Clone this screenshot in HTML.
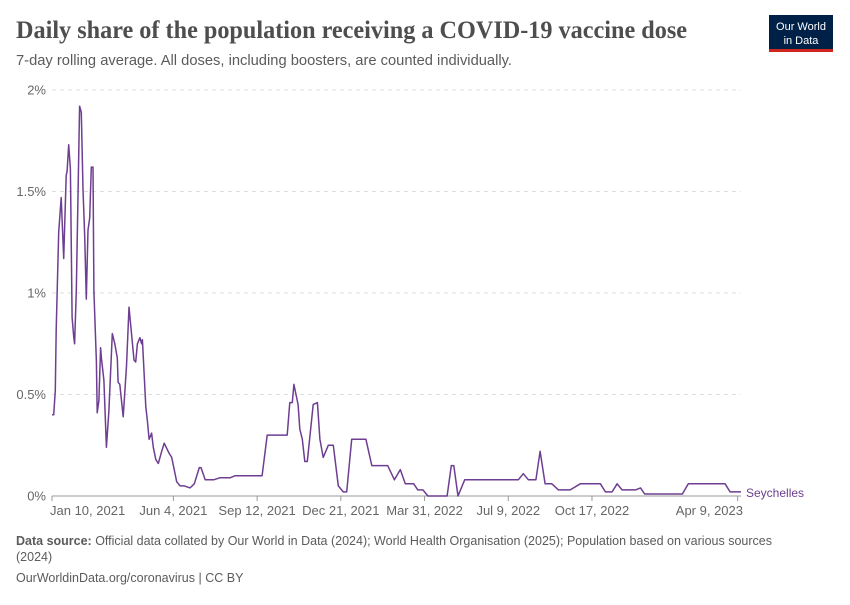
<!DOCTYPE html>
<html><head><meta charset="utf-8">
<style>
body{margin:0;background:#fff;width:850px;height:600px;overflow:hidden;font-family:"Liberation Sans",sans-serif;}
svg text{font-family:"Liberation Sans",sans-serif;}
</style></head><body>
<svg id="chart" width="850" height="600">
<text x="16" y="38" font-size="25" font-weight="bold" fill="#4e4e4e" textLength="671" lengthAdjust="spacingAndGlyphs" style="font-family:'Liberation Serif',serif">Daily share of the population receiving a COVID-19 vaccine dose</text>
<text x="16" y="65" font-size="14.5" fill="#5b5b5b" textLength="496" lengthAdjust="spacingAndGlyphs">7-day rolling average. All doses, including boosters, are counted individually.</text>
<g>
<rect x="769" y="15" width="64" height="36" fill="#002147"/>
<rect x="769" y="49" width="64" height="3" fill="#ce261e"/>
<text x="801" y="30" font-size="11" fill="#fff" text-anchor="middle">Our World</text>
<text x="801" y="44" font-size="11" fill="#fff" text-anchor="middle">in Data</text>
</g>
<g id="grid"></g><g id="xaxis"></g>
<path id="line" fill="none" stroke="#6d3e91" stroke-width="1.5" stroke-linejoin="round"/>
<text x="746" y="497" font-size="12" fill="#6d3e91">Seychelles</text>
<text x="16" y="545" font-size="12.5" fill="#5b5b5b"><tspan font-weight="bold">Data source:</tspan> Official data collated by Our World in Data (2024); World Health Organisation (2025); Population based on various sources</text>
<text x="16" y="561" font-size="12.5" fill="#5b5b5b">(2024)</text>
<text x="16" y="582" font-size="12.5" fill="#5b5b5b">OurWorldinData.org/coronavirus | CC BY</text>
</svg>
<script>
const days=[0,2,4,5,8,11,14,17,18,20,22,24,26,27,29,33,35,37,39,41,43,45,47,49,50,53,54,56,58,59,62,65,68,72,75,78,79,81,85,89,92,95,98,100,102,105,107,108,112,114,116,117,119,121,124,127,131,134,140,143,149,153,158,165,170,176,178,183,193,201,213,219,251,257,281,284,287,289,294,296,299,302,305,312,317,320,324,330,336,342,348,352,358,375,382,401,409,416,422,432,437,443,449,472,477,480,485,493,557,563,569,578,583,589,597,605,619,631,655,661,669,675,681,697,703,708,753,760,804,810,823];
const values=[0.40,0.40,0.52,0.82,1.30,1.47,1.17,1.58,1.60,1.73,1.61,0.88,0.78,0.75,1.01,1.92,1.89,1.51,1.28,0.97,1.31,1.37,1.62,1.62,1.01,0.66,0.41,0.47,0.73,0.68,0.57,0.24,0.42,0.80,0.75,0.68,0.56,0.55,0.39,0.64,0.93,0.80,0.67,0.66,0.75,0.78,0.75,0.77,0.44,0.37,0.28,0.29,0.31,0.24,0.18,0.16,0.22,0.26,0.21,0.19,0.07,0.05,0.05,0.04,0.06,0.14,0.14,0.08,0.08,0.09,0.09,0.10,0.10,0.30,0.30,0.46,0.46,0.55,0.45,0.33,0.28,0.17,0.17,0.45,0.46,0.28,0.19,0.25,0.25,0.05,0.02,0.02,0.28,0.28,0.15,0.15,0.08,0.13,0.06,0.06,0.03,0.03,0.00,0.00,0.15,0.15,0.00,0.08,0.08,0.11,0.08,0.08,0.22,0.06,0.06,0.03,0.03,0.06,0.06,0.02,0.02,0.06,0.03,0.03,0.04,0.01,0.01,0.06,0.06,0.02,0.02];
const yTicks=[0,0.5,1,1.5,2];
const yTickLabels=["0%","0.5%","1%","1.5%","2%"];
const xTickDays=[0,145,245,345,445,545,645,819];
const xTickLabels=["Jan 10, 2021","Jun 4, 2021","Sep 12, 2021","Dec 21, 2021","Mar 31, 2022","Jul 9, 2022","Oct 17, 2022","Apr 9, 2023"];
const X0=52,X1=741,Y0=496,Y1=90,DMAX=823,VMAX=2;
const sx=d=>X0+(X1-X0)*d/DMAX, sy=v=>Y0-(Y0-Y1)*v/VMAX;
const NS="http://www.w3.org/2000/svg";
const grid=document.getElementById('grid'), xa=document.getElementById('xaxis');
yTicks.forEach((t,i)=>{
 const l=document.createElementNS(NS,'line');
 
 
 l.setAttribute('x1',X0);l.setAttribute('x2',X1);l.setAttribute('y1',sy(t));l.setAttribute('y2',sy(t));
 l.setAttribute('stroke','#dddddd');if(t>0)l.setAttribute('stroke-dasharray','4,4');
 grid.appendChild(l);
 const tx=document.createElementNS(NS,'text');
 
 
 tx.setAttribute('x',46);tx.setAttribute('y',sy(t)+4.5);tx.setAttribute('text-anchor','end');
 tx.setAttribute('font-size','13');tx.setAttribute('fill','#666');tx.textContent=yTickLabels[i];
 grid.appendChild(tx);
});
const ax=document.createElementNS(NS,'line');


ax.setAttribute('x1',X0);ax.setAttribute('x2',X1);ax.setAttribute('y1',Y0);ax.setAttribute('y2',Y0);ax.setAttribute('stroke','#999');
xa.appendChild(ax);
xTickDays.forEach((d,i)=>{
 const t=document.createElementNS(NS,'line');
 
 
 const xp=Math.min(sx(d),X1);
 t.setAttribute('x1',xp);t.setAttribute('x2',xp);t.setAttribute('y1',Y0);t.setAttribute('y2',Y0+5);t.setAttribute('stroke','#999');
 xa.appendChild(t);
 const tx=document.createElementNS(NS,'text');
 
 
 const anchor=i==0?'start':(i==xTickDays.length-1?'end':'middle');
 tx.setAttribute('x',i==xTickDays.length-1?X1+2:xp+(i==0?-2:0));tx.setAttribute('y',Y0+19);tx.setAttribute('text-anchor',anchor);
 tx.setAttribute('font-size','13');tx.setAttribute('fill','#666');tx.textContent=xTickLabels[i];
 xa.appendChild(tx);
});
document.getElementById('line').setAttribute('d',days.map((d,i)=>(i?'L':'M')+sx(d).toFixed(1)+','+sy(values[i]).toFixed(1)).join(''));
</script>
</body></html>
